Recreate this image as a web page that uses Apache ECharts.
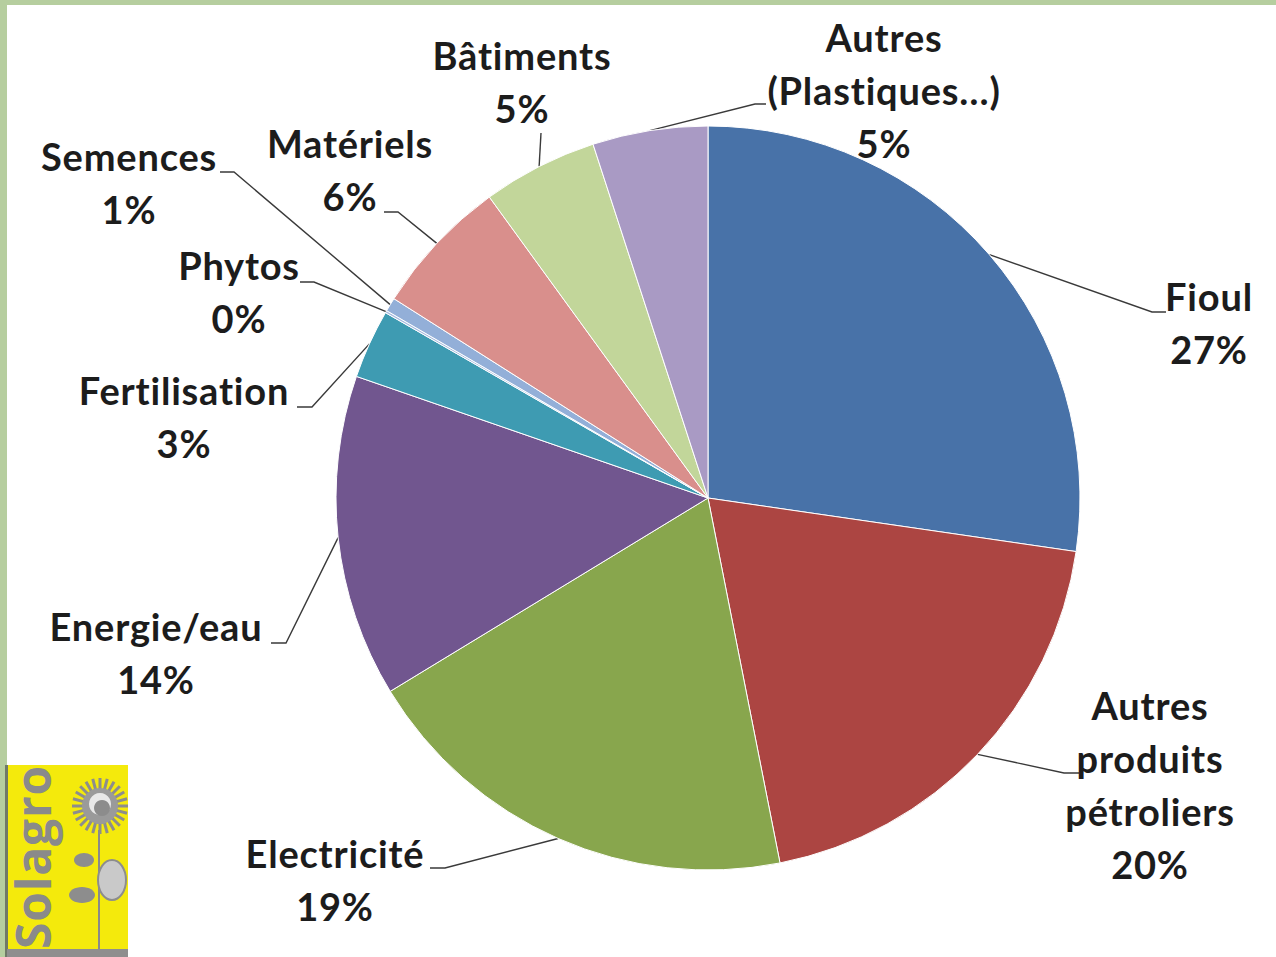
<!DOCTYPE html>
<html><head><meta charset="utf-8">
<script src="https://cdn.jsdelivr.net/npm/echarts@6/dist/echarts.min.js"></script>
<style>html,body{margin:0;padding:0;background:#fff}#c{width:1276px;height:957px}#c svg text{font-variant-ligatures:none;font-feature-settings:"liga" 0,"clig" 0;letter-spacing:0.8px}</style>
</head><body><div id="c"></div>
<script>
// ---- data ----
const categories = ['Fioul', 'Autres\nproduits\npétroliers', 'Electricité', 'Energie/eau', 'Fertilisation', 'Phytos', 'Semences', 'Matériels', 'Bâtiments', 'Autres\n(Plastiques…)'];
const values = [27.3, 19.6, 19.4, 14.0, 3.0, 0.1, 0.6, 6.0, 5.0, 5.0];
const sliceColors = ['#4872A8', '#AC4542', '#88A64D', '#71568F', '#3E9BB2', '#A9BCE0', '#93AFD8', '#D98F8C', '#C2D69A', '#A99AC4'];
// label block centre [x, y] and leader-line elbow [x, y, endX]
const labelSpots = [
  [1209, 322, 1152, 312, 1166],
  [1150, 784, 1064, 773, 1079],
  [335, 879, 445, 868, 430],
  [156, 652, 286, 643, 271],
  [184, 416, 312, 407, 297],
  [239, 291, 314, 282, 300],
  [129, 182, 234, 172, 220],
  [350, 169, 398, 212, 384],
  [522, 81, 541, 133, 541],
  [884, 90, 755, 104, 766]
];

const chart = echarts.init(document.getElementById('c'), null, { renderer: 'svg' });
const pieData = categories.map((n, i) => ({ name: n, value: values[i], itemStyle: { color: sliceColors[i] } }));

// sunflower petals for the logo
const petals = [];
for (let k = 0; k < 24; k++) {
  const a = k / 24 * Math.PI * 2;
  petals.push({ type: 'line', shape: { x1: 100 + Math.cos(a) * 16, y1: 806 + Math.sin(a) * 16, x2: 100 + Math.cos(a) * 28, y2: 806 + Math.sin(a) * 28 }, style: { stroke: '#8d8d8d', lineWidth: 3 } });
}

chart.setOption({
  backgroundColor: '#ffffff',
  animation: false,
  graphic: [
    { type: 'rect', shape: { x: 0, y: 0, width: 1276, height: 5 }, style: { fill: '#B6CE9F' } },
    { type: 'rect', shape: { x: 0, y: 0, width: 7, height: 957 }, style: { fill: '#B6CE9F' } },
    { type: 'rect', shape: { x: 7, y: 765, width: 121, height: 185 }, style: { fill: '#F4EA0C' } },
    { type: 'rect', shape: { x: 5, y: 765, width: 3, height: 192 }, style: { fill: '#707a68' } },
    { type: 'rect', shape: { x: 7, y: 949, width: 121, height: 8 }, style: { fill: '#8E8E8E' } },
    { type: 'text', x: 32, y: 857, rotation: Math.PI / 2, style: { text: 'Solagro', font: 'bold 48px "Open Sans"', fill: '#8A8A8A', align: 'center', verticalAlign: 'middle' } },
    { type: 'line', shape: { x1: 99, y1: 830, x2: 99, y2: 949 }, style: { stroke: '#8a8a8a', lineWidth: 2 } },
    ...petals,
    { type: 'circle', shape: { cx: 100, cy: 806, r: 18 }, style: { fill: '#9a9a9a' } },
    { type: 'circle', shape: { cx: 100, cy: 804, r: 11 }, style: { fill: '#e8e8e8' } },
    { type: 'circle', shape: { cx: 102, cy: 808, r: 8 }, style: { fill: '#8c8c8c' } },
    { type: 'ellipse', shape: { cx: 84, cy: 860, rx: 10, ry: 7 }, style: { fill: '#8d8d8d' } },
    { type: 'ellipse', shape: { cx: 112, cy: 880, rx: 14, ry: 20 }, style: { fill: '#c9c9c9', stroke: '#8d8d8d', lineWidth: 2 } },
    { type: 'ellipse', shape: { cx: 82, cy: 895, rx: 13, ry: 8 }, style: { fill: '#8d8d8d' } }
  ],
  series: [{
    type: 'pie',
    center: [708, 498],
    radius: 372,
    startAngle: 90,
    clockwise: true,
    avoidLabelOverlap: false,
    data: pieData,
    itemStyle: { borderColor: '#ffffff', borderWidth: 1 },
    label: {
      show: true,
      position: 'outside',
      formatter: p => p.name + '\n' + Math.round(p.percent) + '%',
      fontFamily: 'Lato',
      fontWeight: 'bold',
      fontSize: 38,
      lineHeight: 53,
      color: '#1c1c1c',
      align: 'center'
    },
    labelLine: { show: true, length: 20, length2: 15, smooth: false, lineStyle: { color: '#3a3a3a', width: 1.4 } },
    labelLayout: function (p) {
      const s = labelSpots[p.dataIndex];
      const start = p.labelLinePoints ? p.labelLinePoints[0] : [s[2], s[3]];
      return {
        x: s[0], y: s[1], align: 'center', verticalAlign: 'middle',
        labelLinePoints: [start, [s[2], s[3]], [s[4], s[3]]]
      };
    },
    emphasis: { disabled: true }
  }]
});
</script></body></html>
